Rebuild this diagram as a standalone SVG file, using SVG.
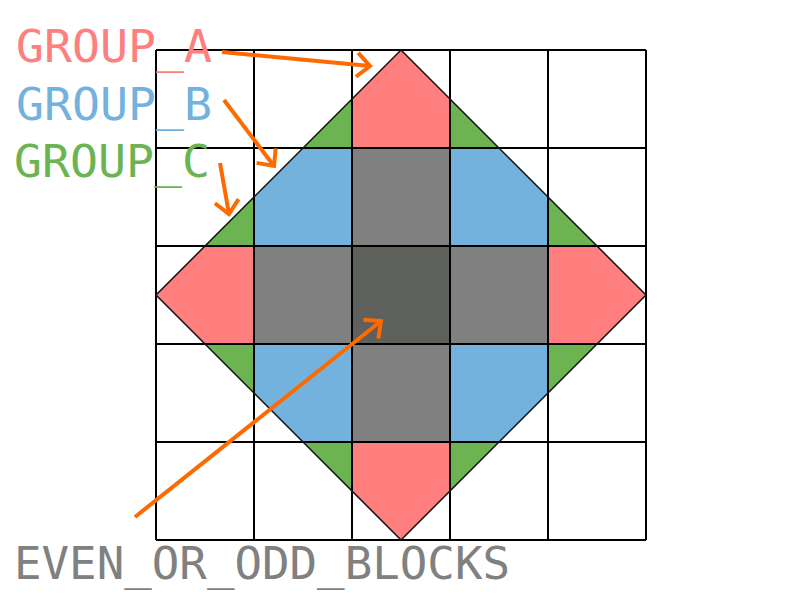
<svg xmlns="http://www.w3.org/2000/svg" width="800" height="600" viewBox="0 0 800 600">
<style>
.a{fill:#FF7F7F}.b{fill:#74B2DE}.c{fill:#6CB352}.g{fill:#808080}.d{fill:#5E605C}
.grid{stroke:#000;stroke-width:2;fill:none}
.edge{stroke:#111;stroke-width:1.5;fill:none}
.lbl{font-family:"DejaVu Sans Mono","Liberation Mono",monospace;font-size:44px}
.arr{stroke:#FF6A00;stroke-width:4;fill:none}
</style>
<defs>
<marker id="head" markerUnits="userSpaceOnUse" markerWidth="40" markerHeight="40" refX="0" refY="0" viewBox="-20 -20 40 40" orient="auto">
<path d="M-13,-12 L0,0 L-13,12" stroke="#FF6A00" stroke-width="4" fill="none"/>
</marker>
</defs>
<rect width="800" height="600" fill="#fff"/>
<g id="shapes">
<g id="groupA">
<polygon class="a" points="401,50 450,99 450,148 352,148 352,99"/>
<polygon class="a" points="401,540 450,491 450,442 352,442 352,491"/>
<polygon class="a" points="156,295 205,246 254,246 254,344 205,344"/>
<polygon class="a" points="646,295 597,246 548,246 548,344 597,344"/>
</g>
<g id="groupB">
<polygon class="b" points="303,148 352,148 352,246 254,246 254,197"/>
<polygon class="b" points="499,148 450,148 450,246 548,246 548,197"/>
<polygon class="b" points="303,442 352,442 352,344 254,344 254,393"/>
<polygon class="b" points="499,442 450,442 450,344 548,344 548,393"/>
</g>
<g id="groupC">
<polygon class="c" points="352,99 352,148 303,148"/>
<polygon class="c" points="450,99 450,148 499,148"/>
<polygon class="c" points="254,197 254,246 205,246"/>
<polygon class="c" points="548,197 548,246 597,246"/>
<polygon class="c" points="254,393 254,344 205,344"/>
<polygon class="c" points="548,393 548,344 597,344"/>
<polygon class="c" points="352,491 352,442 303,442"/>
<polygon class="c" points="450,491 450,442 499,442"/>
</g>
<g id="evenOdd">
<rect class="g" x="352" y="148" width="98" height="98"/>
<rect class="g" x="352" y="344" width="98" height="98"/>
<rect class="g" x="254" y="246" width="98" height="98"/>
<rect class="g" x="450" y="246" width="98" height="98"/>
<rect class="d" x="352" y="246" width="98" height="98"/>
</g>
</g>
<g id="grid">
<path class="grid" d="M156,50V540M254,50V540M352,50V540M450,50V540M548,50V540M646,50V540M156,50H646M156,148H646M156,246H646M156,344H646M156,442H646M156,540H646"/>
<polygon class="edge" points="401,50 646,295 401,540 156,295"/>
</g>
<g id="labels">
<text class="lbl" x="16" y="62" fill="#FF7F7F" textLength="196" lengthAdjust="spacingAndGlyphs">GROUP_A</text>
<text class="lbl" x="16" y="120" fill="#74B2DE" textLength="196" lengthAdjust="spacingAndGlyphs">GROUP_B</text>
<text class="lbl" x="14" y="177" fill="#6CB352" textLength="196" lengthAdjust="spacingAndGlyphs">GROUP_C</text>
<text class="lbl" x="14" y="579" fill="#808080" textLength="496" lengthAdjust="spacingAndGlyphs">EVEN_OR_ODD_BLOCKS</text>
</g>
<g id="connectors">
<line class="arr" x1="222" y1="52" x2="370" y2="66" marker-end="url(#head)"/>
<line class="arr" x1="224" y1="100" x2="274" y2="166" marker-end="url(#head)"/>
<line class="arr" x1="220" y1="163" x2="229" y2="214" marker-end="url(#head)"/>
<line class="arr" x1="135" y1="517" x2="381" y2="321" marker-end="url(#head)"/>
</g>
</svg>
